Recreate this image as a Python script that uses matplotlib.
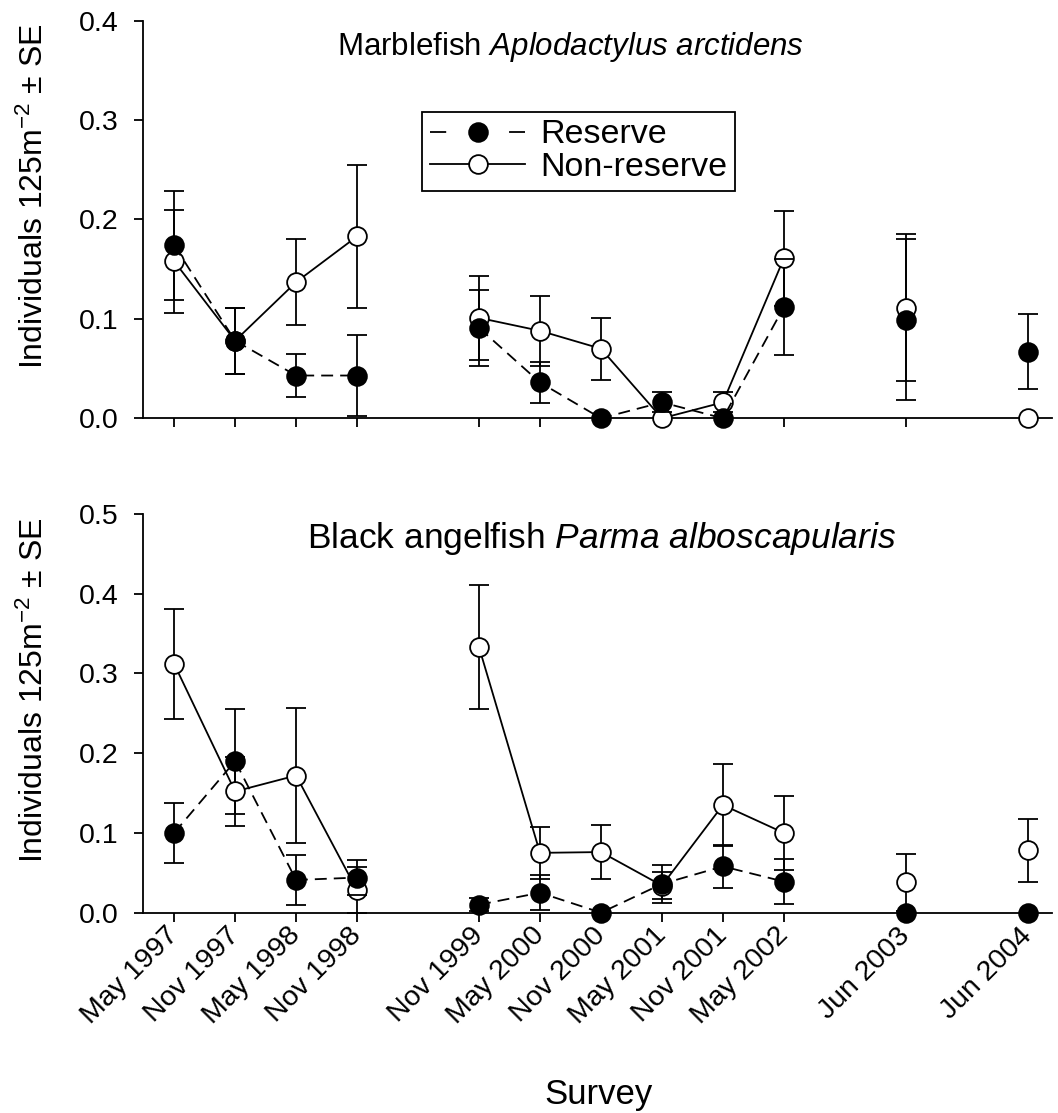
import matplotlib
matplotlib.use('Agg')
import matplotlib.pyplot as plt
import numpy as np
from matplotlib.lines import Line2D

plt.rcParams['font.family'] = ['Liberation Sans', 'DejaVu Sans']
plt.rcParams['mathtext.fontset'] = 'custom'
plt.rcParams['mathtext.rm'] = 'Liberation Sans'
plt.rcParams['mathtext.it'] = 'Liberation Sans:italic'

# survey positions (half-year steps) and labels
x_pos = [0, 1, 2, 3, 5, 6, 7, 8, 9, 10, 12, 14]
surveys = ['May 1997', 'Nov 1997', 'May 1998', 'Nov 1998', 'Nov 1999', 'May 2000',
           'Nov 2000', 'May 2001', 'Nov 2001', 'May 2002', 'Jun 2003', 'Jun 2004']
# which points are joined by a line
groups = [[0, 1, 2, 3], [4, 5, 6, 7, 8, 9]]

# Marblefish
marble_res = [0.174, 0.078, 0.043, 0.043, 0.091, 0.036, 0.0, 0.016, 0.0, 0.112, 0.099, 0.067]
marble_res_se = [0.055, 0.033, 0.022, 0.041, 0.038, 0.021, 0.0, 0.010, 0.0, 0.048, 0.081, 0.038]
marble_non = [0.158, 0.078, 0.137, 0.183, 0.101, 0.088, 0.070, 0.0, 0.016, 0.161, 0.111, 0.0]
marble_non_se = [0.052, 0.033, 0.043, 0.072, 0.042, 0.035, 0.031, 0.0, 0.010, 0.048, 0.074, 0.0]

# Black angelfish
angel_res = [0.100, 0.190, 0.041, 0.044, 0.010, 0.025, 0.0, 0.036, 0.058, 0.039, 0.0, 0.0]
angel_res_se = [0.038, 0.066, 0.031, 0.022, 0.008, 0.022, 0.0, 0.024, 0.027, 0.028, 0.0, 0.0]
angel_non = [0.312, 0.152, 0.172, 0.028, 0.333, 0.075, 0.076, 0.034, 0.135, 0.100, 0.038, 0.078]
angel_non_se = [0.069, 0.043, 0.085, 0.029, 0.078, 0.033, 0.034, 0.017, 0.051, 0.046, 0.036, 0.040]

LW = 1.3
MS = 13.5
DASH = (0, (6.6, 3.9))
FS_TICK = 20.5
FS_LABEL = 23
FS_LEG = 24.5


def draw_series(ax, y, se, filled, z):
    x = np.array(x_pos, dtype=float)
    y = np.array(y)
    se = np.array(se)
    m = se > 0
    _, caps, bars = ax.errorbar(x[m], y[m], yerr=se[m], fmt='none', ecolor='black',
                                elinewidth=LW, capsize=7.5, capthick=LW, zorder=2)
    for c in caps:
        c.set_zorder(6)
        c.set_clip_on(False)
    for b in bars:
        b.set_clip_on(False)
    ls = DASH if filled else '-'
    for g in groups:
        ax.plot(x[g], y[g], color='black', lw=LW, linestyle=ls, zorder=z)
    ax.plot(x, y, linestyle='none', marker='o', ms=MS, mec='black', mew=LW,
            mfc='black' if filled else 'white', zorder=z + 0.5, clip_on=False)


fig = plt.figure(figsize=(10.58, 11.13), dpi=100)
ax1 = fig.add_axes([0.1352, 0.6242, 0.8593, 0.3572])
ax2 = fig.add_axes([0.1352, 0.1800, 0.8593, 0.3582])

panels = [
    (ax1, marble_res, marble_res_se, marble_non, marble_non_se, 0.4,
     r'Marblefish $\mathit{Aplodactylus\ arctidens}$', 0.213, 0.914, 22.5),
    (ax2, angel_res, angel_res_se, angel_non, angel_non_se, 0.5,
     r'Black angelfish $\mathit{Parma\ alboscapularis}$', 0.180, 0.915, 25.5),
]

for ax, r, rse, n, nse, ymax, title, tx, ty, tfs in panels:
    draw_series(ax, n, nse, False, 3)
    draw_series(ax, r, rse, True, 4)
    ax.set_xlim(-0.51, 14.4)
    ax.set_ylim(0, ymax)
    ax.set_yticks(np.arange(0, ymax + 0.01, 0.1))
    ax.yaxis.set_major_formatter(matplotlib.ticker.FormatStrFormatter('%.1f'))
    ax.set_xticks(x_pos)
    ax.spines['top'].set_visible(False)
    ax.spines['right'].set_visible(False)
    ax.spines['left'].set_linewidth(LW)
    ax.spines['bottom'].set_linewidth(LW)
    ax.tick_params(direction='out', length=6.7, width=LW, labelsize=FS_TICK)
    ax.tick_params(axis='y', pad=11)
    ax.tick_params(axis='x', pad=7)
    ax.set_ylabel(r'Individuals 125m$^{-2}$ $\pm$ SE', fontsize=FS_LABEL)
    ax.yaxis.set_label_coords(-0.1025, 0.559)
    ax.text(tx, ty, title, transform=ax.transAxes, ha='left', va='baseline',
            fontsize=tfs)

ax1.set_xticklabels([])
ax2.set_xticklabels(surveys, rotation=45, ha='right', va='center',
                    rotation_mode='anchor')

# legend handles: the dashed one shows only a dash at each end
HL = 2.8
L = HL * FS_LEG
d = 0.17 * L
res_handle = Line2D([], [], color='black', lw=LW, linestyle=(0, (d / LW, (L - 2 * d) / LW)),
                    marker='o', ms=MS, mfc='black', mec='black', mew=LW)
non_handle = Line2D([], [], color='black', lw=LW, linestyle='-',
                    marker='o', ms=MS, mfc='white', mec='black', mew=LW)
leg = ax1.legend([res_handle, non_handle], ['Reserve', 'Non-reserve'],
                 loc='upper left', bbox_to_anchor=(0.3073, 0.7704), fontsize=FS_LEG,
                 handlelength=HL, handletextpad=0.45, borderpad=0.22,
                 labelspacing=0.05, fancybox=False, framealpha=1, borderaxespad=0)
leg.get_frame().set_edgecolor('black')
leg.get_frame().set_linewidth(LW)

fig.text(598 / 1058, 1 - 1104 / 1113, 'Survey', ha='center', va='baseline', fontsize=25)

fig.savefig('out.png', dpi=100)
